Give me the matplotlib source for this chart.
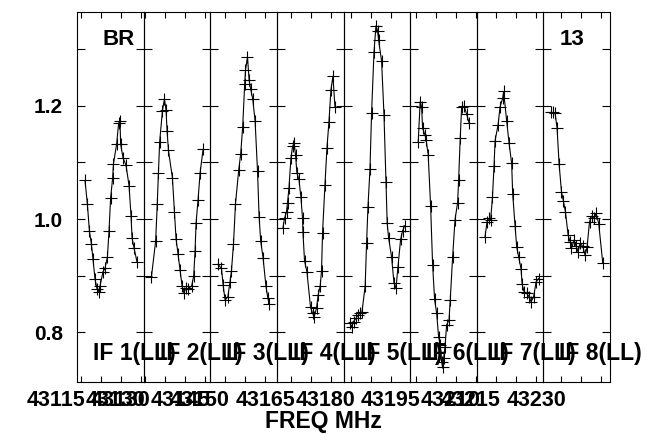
import numpy as np
import matplotlib.pyplot as plt
from matplotlib.transforms import ScaledTranslation, blended_transform_factory

plt.rcParams['font.family'] = ['Liberation Sans', 'DejaVu Sans']
plt.rcParams['font.weight'] = 'bold'

# start frequency of each IF panel (MHz), panel width in MHz
if_start = [43114.1, 43129.6, 43146.4, 43161.6, 43178.2, 43193.6, 43210.3, 43225.6]
if_width = 16.65
if_names = ['IF 1(LL)', 'IF 2(LL)', 'IF 3(LL)', 'IF 4(LL)',
            'IF 5(LL)', 'IF 6(LL)', 'IF 7(LL)', 'IF 8(LL)']

# channel position (MHz from panel start) and amplitude, per IF
off1 = [2.0, 2.6, 3.1, 3.6, 4.0, 4.5, 5.0, 5.4, 5.75, 6.5, 7.0, 7.6, 8.0, 8.4, 8.9,
        9.1, 9.9, 10.4, 10.75, 10.9, 11.5, 12.25, 13.0, 13.5, 13.75, 14.25, 15.0]
amp1 = [1.068, 1.026, 0.979, 0.956, 0.929, 0.894, 0.877, 0.872, 0.882, 0.907, 0.913,
        0.933, 0.979, 1.037, 1.072, 1.097, 1.132, 1.169, 1.173, 1.132, 1.108, 1.095,
        1.059, 1.006, 0.967, 0.949, 0.924]

off2 = [1.95, 3.0, 3.4, 3.7, 4.0, 4.7, 5.2, 5.6, 5.85, 6.2, 7.2, 7.7, 8.1, 8.6, 9.1,
        9.6, 10.1, 10.5, 11.0, 12.0, 12.5, 12.85, 13.1, 13.6, 14.1, 14.85]
amp2 = [0.898, 0.961, 1.026, 1.082, 1.136, 1.191, 1.212, 1.192, 1.156, 1.121, 1.072,
        1.012, 0.965, 0.938, 0.910, 0.882, 0.869, 0.878, 0.876, 0.882, 0.899, 0.944,
        0.993, 1.034, 1.081, 1.123]

off3 = [1.9, 2.8, 3.2, 3.7, 4.4, 4.9, 5.3, 5.8, 6.3, 7.1, 7.6, 8.1, 8.6, 8.8, 9.3,
        9.7, 10.1, 10.6, 11.2, 11.8, 12.2, 12.6, 13.2, 13.9, 14.4, 14.7]
amp3 = [0.920, 0.913, 0.884, 0.857, 0.863, 0.888, 0.909, 0.956, 1.027, 1.086, 1.115,
        1.163, 1.238, 1.263, 1.286, 1.245, 1.229, 1.212, 1.173, 1.085, 1.004, 0.961,
        0.931, 0.882, 0.860, 0.850]

off4 = [1.5, 1.9, 2.4, 2.65, 3.0, 3.5, 3.9, 4.3, 4.65, 5.0, 5.5, 6.0, 6.4, 6.5, 6.9,
        7.5, 8.4, 8.9, 9.3, 9.9, 10.3, 10.8, 11.15, 11.4, 12.0, 12.5, 13.0, 13.5, 14.0, 14.5]
amp4 = [0.984, 1.001, 1.013, 1.029, 1.054, 1.107, 1.128, 1.134, 1.113, 1.081, 1.070,
        1.038, 1.001, 0.977, 0.926, 0.907, 0.844, 0.834, 0.827, 0.843, 0.866, 0.881,
        0.909, 0.976, 1.060, 1.125, 1.172, 1.228, 1.252, 1.198]

off5 = [1.6, 2.0, 2.5, 3.1, 3.6, 4.1, 4.6, 5.4, 5.75, 6.1, 6.6, 7.0, 7.6, 8.1, 8.5,
        8.75, 9.5, 10.1, 10.6, 10.9, 11.25, 12.0, 12.6, 13.1, 13.6, 14.25, 14.75, 15.25]
amp5 = [0.816, 0.810, 0.819, 0.825, 0.830, 0.834, 0.836, 0.882, 0.957, 1.022, 1.088,
        1.187, 1.294, 1.341, 1.332, 1.316, 1.279, 1.184, 1.065, 0.993, 0.967, 0.933,
        0.887, 0.878, 0.916, 0.964, 0.979, 0.988]

off6 = [2.0, 2.5, 2.85, 3.1, 3.7, 4.0, 4.5, 5.1, 5.6, 6.1, 6.6, 7.1, 7.5, 7.85, 8.1,
        8.35, 8.7, 9.1, 9.7, 10.0, 10.6, 11.2, 11.85, 12.1, 12.5, 12.85, 13.5, 14.1, 14.7]
amp6 = [1.136, 1.207, 1.198, 1.160, 1.148, 1.139, 1.113, 1.023, 0.919, 0.858, 0.834,
        0.792, 0.778, 0.748, 0.739, 0.754, 0.775, 0.813, 0.822, 0.857, 0.933, 0.999,
        1.029, 1.069, 1.143, 1.197, 1.199, 1.185, 1.170]

off7 = [2.05, 2.55, 2.95, 3.45, 3.9, 4.3, 4.55, 5.3, 5.8, 6.45, 6.7, 7.45, 8.05, 8.7,
        8.95, 9.55, 9.95, 10.45, 11.05, 11.3, 11.8, 12.45, 13.05, 13.55, 14.2, 14.8, 15.45]
amp7 = [0.969, 0.995, 1.001, 0.999, 1.038, 1.094, 1.138, 1.166, 1.198, 1.213, 1.225,
        1.173, 1.134, 1.098, 1.045, 0.988, 0.951, 0.933, 0.912, 0.885, 0.872, 0.869,
        0.863, 0.854, 0.863, 0.889, 0.895]

off8 = [1.8, 2.3, 2.9, 3.4, 3.9, 4.5, 5.0, 5.5, 6.15, 6.65, 7.0, 7.65, 8.15, 8.65,
        9.15, 9.8, 10.4, 10.9, 11.5, 12.0, 12.65, 13.15, 13.8, 14.8]
amp8 = [1.188, 1.188, 1.187, 1.160, 1.097, 1.048, 1.031, 1.012, 0.972, 0.960, 0.948,
        0.963, 0.952, 0.942, 0.957, 0.952, 0.936, 0.951, 0.995, 1.005, 1.001, 1.010,
        0.992, 0.923]

offsets = [off1, off2, off3, off4, off5, off6, off7, off8]
amps = [amp1, amp2, amp3, amp4, amp5, amp6, amp7, amp8]

ylim = (0.7124, 1.3653)
yticks = [0.8, 0.9, 1.0, 1.1, 1.2, 1.3]
ylabels = ['0.8', '', '1.0', '', '1.2', '']

fig, axes = plt.subplots(1, 8, sharey=True, figsize=(6.47, 4.34), dpi=100)
fig.subplots_adjust(left=0.119, right=0.943, bottom=0.1198, top=0.9724, wspace=0)

# freq labels sit right-aligned just past their tick, below the axis
shift = ScaledTranslation(5 / 100, -8 / 100, fig.dpi_scale_trans)

for i, ax in enumerate(axes):
    ax.set_facecolor('none')
    f0 = if_start[i]
    x = f0 + np.array(offsets[i])
    ax.plot(x, amps[i], color='black', lw=0.8, marker='+', ms=8.6, mew=0.8)
    ax.set_xlim(f0, f0 + if_width)
    ax.set_ylim(*ylim)

    ticks = np.arange(np.ceil(f0 / 5) * 5, f0 + if_width, 5)
    ax.set_xticks(ticks)
    ax.set_xticklabels([])
    trans = blended_transform_factory(ax.transData, ax.transAxes) + shift
    for t in ticks:
        if (t - ticks[0]) % 15 == 0:
            ax.text(t, 0, '%d' % t, transform=trans, ha='right', va='top',
                    fontsize=15.5, fontweight='bold', clip_on=False)

    ax.tick_params(axis='x', direction='in', top=True, bottom=True, length=4,
                   width=0.8)
    ax.tick_params(axis='y', direction='in', left=True, right=True, length=6,
                   width=0.8, labelsize=15, pad=10)
    for sp in ax.spines.values():
        sp.set_linewidth(0.8)
        sp.set_color('black')
    if i > 0:
        ax.tick_params(axis='y', labelleft=False)

    ax.text(f0 + 4.0, 0.751, if_names[i], fontsize=16.5, fontweight='bold',
            ha='left', va='baseline', clip_on=False)

axes[0].set_yticks(yticks)
axes[0].set_yticklabels(ylabels)

axes[0].text(if_start[0] + 6.25, 1.307, 'BR', fontsize=16, fontweight='bold',
             ha='left', va='baseline')
axes[7].text(if_start[7] + 4.15, 1.307, '13', fontsize=16, fontweight='bold',
             ha='left', va='baseline')

fig.text(0.5, 0.029, 'FREQ MHz', fontsize=16.5, fontweight='bold',
         ha='center', va='center')

fig.savefig('out.png', dpi=100)
